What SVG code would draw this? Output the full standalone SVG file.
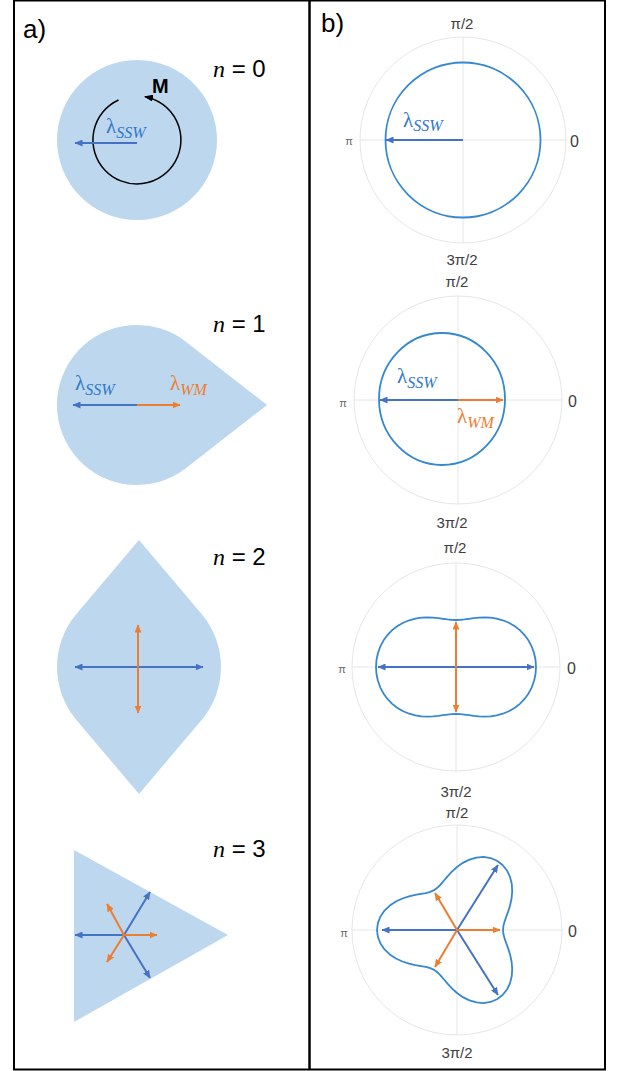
<svg xmlns="http://www.w3.org/2000/svg" width="626" height="1071" viewBox="0 0 626 1071">
<style>
.shape{fill:#bdd7ee;stroke:none}
.ab{stroke:#4472c4;stroke-width:2;fill:none}
.ao{stroke:#ed7d31;stroke-width:2;fill:none}
.grid{stroke:#e6e6e6;stroke-width:1;fill:none}
.curve{stroke:#3588d0;stroke-width:1.8;fill:none;stroke-linejoin:round}
.pl{font-family:"Liberation Sans",Arial,sans-serif;font-size:15px;fill:#404040;text-anchor:middle}
.pi{font-family:"Liberation Sans",Arial,sans-serif;font-size:11px;fill:#666;text-anchor:middle}
.zero{font-family:"Liberation Sans",Arial,sans-serif;font-size:16px;fill:#404040}
.nl{font-family:"Liberation Sans",Arial,sans-serif;font-size:24px;fill:#000}
.ni{font-family:"Liberation Serif","Times New Roman",serif;font-style:italic}
.lam{font-family:"Liberation Serif","Times New Roman",serif;font-size:21px}
.sub{font-style:italic;font-size:16px}
.lb{fill:#2f78c8}
.lo{fill:#ed7d31}
.panel{font-family:"Liberation Sans",Arial,sans-serif;font-size:26px;fill:#000}
</style>
<defs>
<marker id="hb" markerUnits="userSpaceOnUse" markerWidth="8" markerHeight="7" refX="7.5" refY="3.5" orient="auto-start-reverse"><path d="M0,0 L8,3.5 L0,7 Z" fill="#4472c4"/></marker>
<marker id="ho" markerUnits="userSpaceOnUse" markerWidth="8" markerHeight="7" refX="7.5" refY="3.5" orient="auto-start-reverse"><path d="M0,0 L8,3.5 L0,7 Z" fill="#ed7d31"/></marker>
<marker id="hk" markerUnits="userSpaceOnUse" markerWidth="9" markerHeight="7" refX="8" refY="3.5" orient="auto"><path d="M0,0 L9,3.5 L0,7 Z" fill="#000"/></marker>
</defs>
<rect x="0" y="0" width="626" height="1071" fill="#fff"/>
<g id="frame">
<rect x="14" y="0.5" width="591" height="1069" fill="none" stroke="#000" stroke-width="2"/>
<line x1="309.5" y1="0" x2="309.5" y2="1070" stroke="#000" stroke-width="2.5"/>
<text class="panel" x="23" y="38">a)</text>
<text class="panel" x="321" y="32">b)</text>
</g>
<g id="a-n0">
<circle class="shape" cx="137" cy="140" r="80"/>
<path d="M118.5,100 A44,44 0 1 0 145,96.7" fill="none" stroke="#000" stroke-width="1.5" marker-end="url(#hk)"/>
<text x="152" y="93" font-family="Liberation Sans,Arial,sans-serif" font-size="20" font-weight="bold">M</text>
<text class="nl" x="213" y="77"><tspan class="ni">n</tspan> = 0</text>
<text class="lam lb" x="106" y="133">λ<tspan class="sub" dy="5">SSW</tspan></text>
</g>
<g id="a-n1">
<path class="shape" d="M267,405 L186.2,468.05 A80,80 0 1 1 186.2,341.95 Z"/>
<text class="nl" x="213" y="332"><tspan class="ni">n</tspan> = 1</text>
<text class="lam lb" x="75" y="390">λ<tspan class="sub" dy="5">SSW</tspan></text>
<text class="lam lo" x="170" y="390">λ<tspan class="sub" dy="5">WM</tspan></text>
</g>
<g id="a-n2">
<path class="shape" d="M139,540 L201.6,614.1 A82,82 0 0 1 201.6,719.9 L139,794 L76.4,719.9 A82,82 0 0 1 76.4,614.1 Z"/>
<text class="nl" x="213" y="565"><tspan class="ni">n</tspan> = 2</text>
</g>
<g id="a-n3">
<polygon class="shape" points="74,850 74,1022 228,935"/>
<text class="nl" x="213" y="857"><tspan class="ni">n</tspan> = 3</text>
</g>
<g id="b-p1">
<circle class="grid" cx="463" cy="140" r="103"/>
<line class="grid" x1="360" y1="140" x2="566" y2="140"/>
<line class="grid" x1="463" y1="37" x2="463" y2="243"/>
<circle class="curve" cx="463" cy="140" r="77.5"/>
<text class="pl" x="462" y="29">π/2</text>
<text class="pl" x="462" y="265">3π/2</text>
<text class="pi" x="349" y="145">π</text>
<text class="zero" x="570" y="147">0</text>
<text class="lam lb" x="403" y="127">λ<tspan class="sub" dy="4">SSW</tspan></text>
</g>
<g id="b-p2">
<circle class="grid" cx="458" cy="400" r="104"/>
<line class="grid" x1="354" y1="400" x2="562" y2="400"/>
<line class="grid" x1="458" y1="296" x2="458" y2="504"/>
<ellipse class="curve" cx="442" cy="399" rx="63" ry="66"/>
<text class="pl" x="457" y="287">π/2</text>
<text class="pl" x="452" y="528">3π/2</text>
<text class="pi" x="343" y="407">π</text>
<text class="zero" x="568" y="407">0</text>
<text class="lam lb" x="397" y="383">λ<tspan class="sub" dy="5">SSW</tspan></text>
<text class="lam lo" x="457" y="423">λ<tspan class="sub" dy="5">WM</tspan></text>
</g>
<g id="b-p3">
<circle class="grid" cx="456" cy="667" r="104"/>
<line class="grid" x1="352" y1="667" x2="560" y2="667"/>
<line class="grid" x1="456" y1="563" x2="456" y2="771"/>
<polygon class="curve" points="536,667 535.53,660.04 534.1,653.23 531.77,646.70 528.56,640.59 524.55,635.03 519.83,630.15 514.52,626.02 508.77,622.72 502.74,620.26 496.6,618.62 490.51,617.72 484.6,617.46 479.00,617.68 473.76,618.2 468.90,618.84 464.39,619.43 460.13,619.85 456,620 451.87,619.85 447.61,619.43 443.10,618.84 438.24,618.2 433.00,617.68 427.4,617.46 421.49,617.72 415.4,618.62 409.26,620.26 403.23,622.72 397.48,626.02 392.17,630.15 387.45,635.03 383.44,640.59 380.23,646.70 377.9,653.23 376.47,660.04 376,667 376.47,673.96 377.9,680.77 380.23,687.30 383.44,693.41 387.45,698.97 392.17,703.85 397.48,707.98 403.23,711.28 409.26,713.74 415.4,715.38 421.49,716.28 427.4,716.54 433.00,716.32 438.24,715.8 443.10,715.16 447.61,714.57 451.87,714.15 456,714 460.13,714.15 464.39,714.57 468.90,715.16 473.76,715.8 479.00,716.32 484.6,716.54 490.51,716.28 496.6,715.38 502.74,713.74 508.77,711.28 514.52,707.98 519.83,703.85 524.55,698.97 528.56,693.41 531.77,687.30 534.1,680.77 535.53,673.96"/>
<text class="pl" x="455" y="553">π/2</text>
<text class="pl" x="456" y="797">3π/2</text>
<text class="pi" x="342" y="673">π</text>
<text class="zero" x="567" y="674">0</text>
</g>
<g id="b-p4">
<circle class="grid" cx="457" cy="930" r="105"/>
<line class="grid" x1="352" y1="930" x2="562" y2="930"/>
<line class="grid" x1="457" y1="825" x2="457" y2="1035"/>
<polygon class="curve" points="503,930 503.40,925.94 504.55,921.62 506.24,916.81 508.21,911.36 510.11,905.24 511.56,898.5 512.21,891.34 511.77,884.04 510.05,876.95 506.96,870.47 502.55,864.94 497,860.72 490.56,858.02 483.58,856.97 476.42,857.54 469.41,859.59 462.88,862.86 457,867 451.89,871.62 447.54,876.33 443.81,880.76 440.49,884.63 437.32,887.78 434,890.16 430.28,891.84 425.97,893.02 420.95,893.95 415.25,894.97 409.00,896.39 402.44,898.5 395.92,901.52 389.81,905.55 384.54,910.58 380.46,916.51 377.88,923.07 377,930 377.88,936.93 380.46,943.49 384.54,949.42 389.81,954.45 395.92,958.48 402.44,961.5 409.00,963.61 415.25,965.03 420.95,966.05 425.97,966.98 430.28,968.16 434,969.84 437.32,972.22 440.49,975.37 443.81,979.24 447.54,983.67 451.89,988.38 457,993 462.88,997.14 469.41,1000.41 476.42,1002.46 483.58,1003.03 490.56,1001.98 497,999.28 502.55,995.06 506.96,989.53 510.05,983.05 511.77,975.96 512.21,968.66 511.56,961.5 510.11,954.76 508.21,948.64 506.24,943.19 504.55,938.38 503.40,934.06"/>
<text class="pl" x="457" y="818">π/2</text>
<text class="pl" x="457" y="1058">3π/2</text>
<text class="pi" x="344" y="937">π</text>
<text class="zero" x="568" y="937">0</text>
</g>
<g id="connectors">
<line class="ab" x1="137" y1="143" x2="75" y2="143" marker-end="url(#hb)"/>
<line class="ab" x1="137" y1="405" x2="73" y2="405" marker-end="url(#hb)"/>
<line class="ao" x1="137" y1="405" x2="180" y2="405" marker-end="url(#ho)"/>
<line class="ab" x1="75" y1="667" x2="203" y2="667" marker-start="url(#hb)" marker-end="url(#hb)"/>
<line class="ao" x1="138" y1="625" x2="138" y2="713" marker-start="url(#ho)" marker-end="url(#ho)"/>
<line class="ab" x1="124" y1="935" x2="75" y2="935" marker-end="url(#hb)"/>
<line class="ab" x1="124" y1="935" x2="150" y2="892" marker-end="url(#hb)"/>
<line class="ab" x1="124" y1="935" x2="150" y2="978" marker-end="url(#hb)"/>
<line class="ao" x1="124" y1="935" x2="157" y2="935" marker-end="url(#ho)"/>
<line class="ao" x1="124" y1="935" x2="107" y2="904" marker-end="url(#ho)"/>
<line class="ao" x1="124" y1="935" x2="107" y2="962" marker-end="url(#ho)"/>
<line class="ab" x1="463" y1="140" x2="386" y2="140" marker-end="url(#hb)"/>
<line class="ab" x1="458" y1="400" x2="380" y2="400" marker-end="url(#hb)"/>
<line class="ao" x1="458" y1="400" x2="503" y2="400" marker-end="url(#ho)"/>
<line class="ab" x1="378" y1="667" x2="534" y2="667" marker-start="url(#hb)" marker-end="url(#hb)"/>
<line class="ao" x1="456" y1="622" x2="456" y2="712" marker-start="url(#ho)" marker-end="url(#ho)"/>
<line class="ab" x1="457" y1="930" x2="382" y2="930" marker-end="url(#hb)"/>
<line class="ab" x1="457" y1="930" x2="498" y2="865" marker-end="url(#hb)"/>
<line class="ab" x1="457" y1="930" x2="498" y2="995" marker-end="url(#hb)"/>
<line class="ao" x1="457" y1="930" x2="500" y2="930" marker-end="url(#ho)"/>
<line class="ao" x1="457" y1="930" x2="435" y2="893" marker-end="url(#ho)"/>
<line class="ao" x1="457" y1="930" x2="435" y2="967" marker-end="url(#ho)"/>
</g>
</svg>
